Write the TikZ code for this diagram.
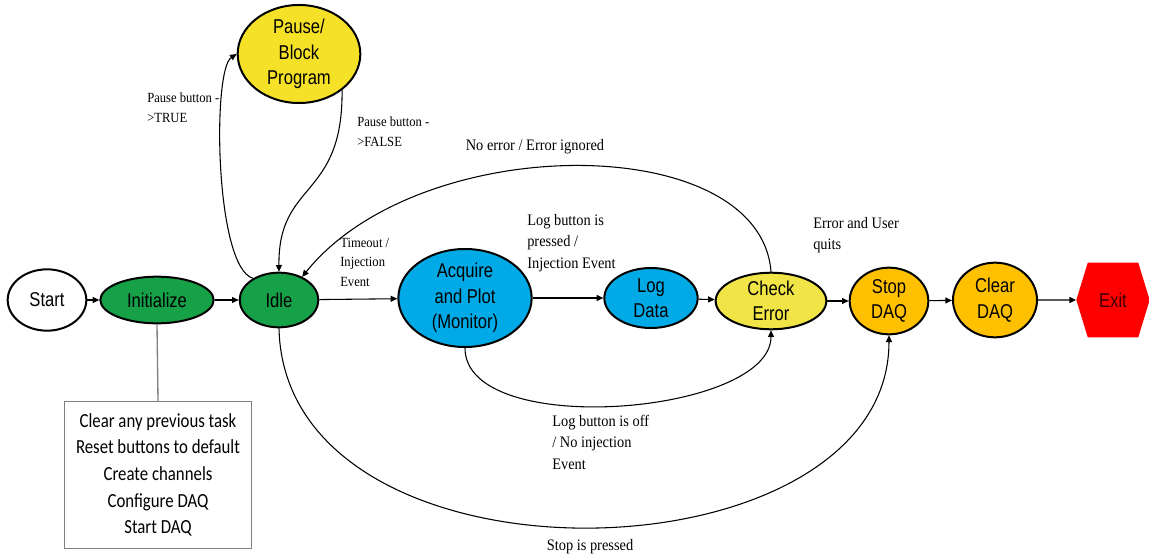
\documentclass[tikz,border=0pt]{standalone}
\usepackage{fontspec}
\usepackage{xcolor}
\usepackage{tikz}
\usetikzlibrary{shapes.geometric,shapes.symbols,arrows.meta,positioning}

\newfontfamily\statefont{Liberation Sans}[FakeStretch=0.83]
\newfontfamily\notefont{Liberation Serif}[FakeStretch=0.9]
\newfontfamily\taskfont{Carlito}[FakeStretch=0.84]

\definecolor{stategreen}{RGB}{22,160,72}
\definecolor{pauseyellow}{RGB}{245,226,40}
\definecolor{monitorblue}{RGB}{0,170,230}
\definecolor{checkyellow}{RGB}{240,228,70}
\definecolor{daqorange}{RGB}{255,192,0}
\definecolor{exitred}{RGB}{255,0,0}
\definecolor{exittext}{RGB}{60,0,0}

\begin{document}
\begin{tikzpicture}[
  x=0.75pt, y=-0.75pt,
  state/.style={draw, ellipse, line width=1.5pt, inner sep=0pt, align=center,
                font=\statefont\fontsize{15}{19}\selectfont},
  arr/.style={-{Triangle[length=5pt,width=4.5pt]}, line width=0.8pt},
  note/.style={font=\notefont\fontsize{12}{16}\selectfont, align=left, inner sep=0pt},
  smallnote/.style={note, font=\notefont\fontsize{10.5}{14.5}\selectfont}
]
\useasboundingbox (0,0) rectangle (1149,560);

% Main chain of states
\node[state, fill=white, minimum width=59pt, minimum height=46pt] (start) at (47,300) {Start};
\node[state, fill=stategreen, minimum width=85pt, minimum height=35pt] (init) at (157,300) {Initialize};
\node[state, fill=stategreen, minimum width=59pt, minimum height=41pt] (idle) at (279,300) {Idle};
\node[state, fill=pauseyellow, minimum width=92pt, minimum height=66pt] (pause) at (299,54) {Pause/\\Block\\Program};
\node[state, fill=monitorblue, minimum width=100pt, minimum height=65pt] (acq) at (465,298) {Acquire\\and Plot\\(Monitor)};
\node[state, fill=monitorblue, minimum width=70pt, minimum height=45pt] (logd) at (651,298) {Log\\Data};
\node[state, fill=checkyellow, minimum width=83pt, minimum height=40pt] (check) at (771,301) {Check\\Error};
\node[state, fill=daqorange, minimum width=59pt, minimum height=50pt] (stop) at (889,301) {Stop\\DAQ};
\node[state, fill=daqorange, minimum width=63pt, minimum height=56pt] (clear) at (995,300) {Clear\\DAQ};
\node[signal, signal to=east and west, signal pointer angle=146, fill=exitred,
      minimum width=55pt, minimum height=56pt, inner sep=0pt, text=exittext,
      font=\statefont\fontsize{15}{19}\selectfont] (exit) at (1113,300) {Exit};

% Init task box
\node[draw=gray, line width=1pt, minimum width=140pt, minimum height=110pt, align=center,
      font=\taskfont\fontsize{15}{20}\selectfont] (tasks) at (158,475)
      {Clear any previous task\\Reset buttons to default\\Create channels\\Configure DAQ\\Start DAQ};

% Straight transitions
\draw[arr] (start) -- (init);
\draw[arr] (init) -- (idle);
\draw[arr] (idle) -- (acq);
\draw[arr] (acq) -- (logd);
\draw[arr] (logd) -- (check);
\draw[arr] (check) -- (stop);
\draw[arr] (stop) -- (clear);
\draw[arr] (clear) -- (exit);
\draw[gray, line width=1pt] (init.south) -- (tasks.north);

% Curved transitions
\draw[arr] (idle.140) .. controls (215,268) and (212,70) .. (pause.west);
\draw[arr] (pause.-40) .. controls (343,200) and (278,180) .. (idle.north);
\draw[arr] (check.north) .. controls (760,130) and (420,130) .. (idle.45);
\draw[arr] (acq.south) .. controls (465,440) and (771,415) .. (check.south);
\draw[arr] (idle.south) .. controls (285,600) and (889,585) .. (stop.south);

% Transition labels
\node[smallnote, anchor=north west] (ptrue) at (147,93) {Pause button -\\>TRUE};
\node[smallnote, anchor=north west] (pfalse) at (357,117) {Pause button -\\>FALSE};
\node[note] (noerr) at (535,147) {No error / Error ignored};
\node[smallnote, anchor=north west] (timeout) at (340,238) {Timeout /\\Injection\\Event};
\node[note, anchor=north west] (logon) at (527,214) {Log button is\\pressed /\\Injection Event};
\node[note, anchor=north west] (errquit) at (813,217) {Error and User\\quits};
\node[note, anchor=north west] (logoff) at (552,415) {Log button is off\\/ No injection\\Event};
\node[note] (stoppr) at (590,547) {Stop is pressed};

\end{tikzpicture}
\end{document}
